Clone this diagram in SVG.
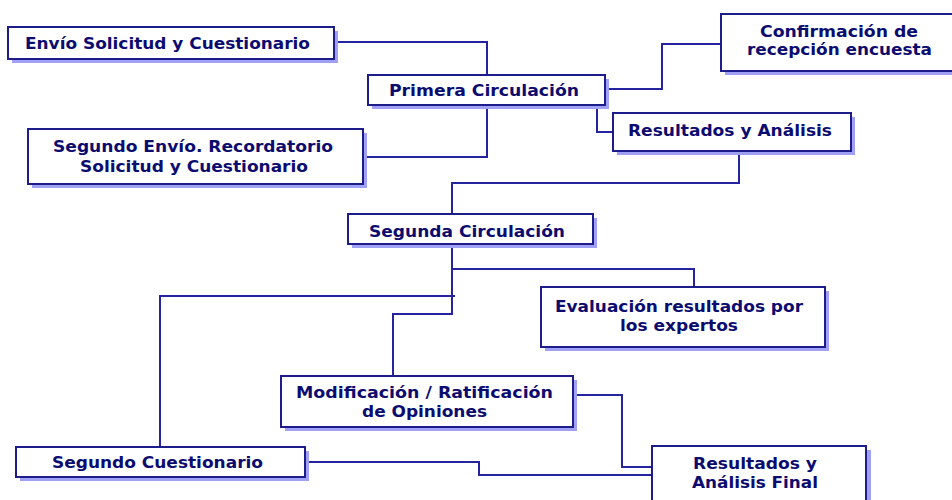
<svg xmlns="http://www.w3.org/2000/svg" width="952" height="500" viewBox="0 0 952 500">
<style>
.sh{fill:#a0a0f4;stroke:none}
.bx{fill:#ffffff;stroke:#1c1c8a;stroke-width:2}
.t{font-family:"DejaVu Sans Condensed","Liberation Sans",sans-serif;font-weight:bold;font-size:16px;fill:#0c0c70}
.ln{fill:none;stroke:#2424a0;stroke-width:2}
</style>
<rect width="952" height="500" fill="#ffffff"/>
<g id="connectors">
<polyline class="ln" points="336,42 487,42 487,75"/>
<polyline class="ln" points="605,89 662,89 662,44 721,44"/>
<polyline class="ln" points="597,105 597,132 613,132"/>
<polyline class="ln" points="487,105 487,157 363,157"/>
<polyline class="ln" points="739,151 739,183 452,183 452,214"/>
<polyline class="ln" points="452,244 452,314 393,314 393,376"/>
<polyline class="ln" points="452,269 694,269 694,287"/>
<polyline class="ln" points="455,296 160,296 160,447"/>
<polyline class="ln" points="305,462 479,462 479,475 652,475"/>
<polyline class="ln" points="573,395 622,395 622,467 652,467"/>
</g>
<g id="n1">
<rect class="sh" x="12" y="31" width="326" height="32"/>
<rect class="bx" x="8" y="27" width="326" height="32"/>
<text class="t" x="25" y="49" textLength="285" lengthAdjust="spacingAndGlyphs">Envío Solicitud y Cuestionario</text>
</g>
<g id="n2">
<rect class="sh" x="372" y="79" width="237" height="30"/>
<rect class="bx" x="368" y="75" width="237" height="30"/>
<text class="t" x="389" y="96" textLength="190" lengthAdjust="spacingAndGlyphs">Primera Circulación</text>
</g>
<g id="n3">
<rect class="sh" x="725" y="18" width="240" height="57"/>
<rect class="bx" x="721" y="14" width="240" height="57"/>
<text class="t" x="760" y="37" textLength="158" lengthAdjust="spacingAndGlyphs">Confirmación de</text>
<text class="t" x="747" y="55" textLength="185" lengthAdjust="spacingAndGlyphs">recepción encuesta</text>
</g>
<g id="n4">
<rect class="sh" x="617" y="117" width="238" height="38"/>
<rect class="bx" x="613" y="113" width="238" height="38"/>
<text class="t" x="628" y="136" textLength="204" lengthAdjust="spacingAndGlyphs">Resultados y Análisis</text>
</g>
<g id="n5">
<rect class="sh" x="32" y="133" width="335" height="55"/>
<rect class="bx" x="28" y="129" width="335" height="55"/>
<text class="t" x="53" y="152" textLength="280" lengthAdjust="spacingAndGlyphs">Segundo Envío. Recordatorio</text>
<text class="t" x="80" y="172" textLength="228" lengthAdjust="spacingAndGlyphs">Solicitud y Cuestionario</text>
</g>
<g id="n6">
<rect class="sh" x="352" y="218" width="245" height="30"/>
<rect class="bx" x="348" y="214" width="245" height="30"/>
<text class="t" x="369" y="237" textLength="196" lengthAdjust="spacingAndGlyphs">Segunda Circulación</text>
</g>
<g id="n7">
<rect class="sh" x="545" y="291" width="284" height="60"/>
<rect class="bx" x="541" y="287" width="284" height="60"/>
<text class="t" x="555" y="312" textLength="248" lengthAdjust="spacingAndGlyphs">Evaluación resultados por</text>
<text class="t" x="620" y="331" textLength="118" lengthAdjust="spacingAndGlyphs">los expertos</text>
</g>
<g id="n8">
<rect class="sh" x="285" y="380" width="292" height="51"/>
<rect class="bx" x="281" y="376" width="292" height="51"/>
<text class="t" x="296" y="398" textLength="257" lengthAdjust="spacingAndGlyphs">Modificación / Ratificación</text>
<text class="t" x="362" y="417" textLength="125" lengthAdjust="spacingAndGlyphs">de Opiniones</text>
</g>
<g id="n9">
<rect class="sh" x="20" y="451" width="289" height="30"/>
<rect class="bx" x="16" y="447" width="289" height="30"/>
<text class="t" x="52" y="468" textLength="211" lengthAdjust="spacingAndGlyphs">Segundo Cuestionario</text>
</g>
<g id="n10">
<rect class="sh" x="656" y="450" width="215" height="60"/>
<rect class="bx" x="652" y="446" width="214" height="60"/>
<text class="t" x="693" y="469" textLength="124" lengthAdjust="spacingAndGlyphs">Resultados y</text>
<text class="t" x="692" y="488" textLength="126" lengthAdjust="spacingAndGlyphs">Análisis Final</text>
</g>
</svg>
